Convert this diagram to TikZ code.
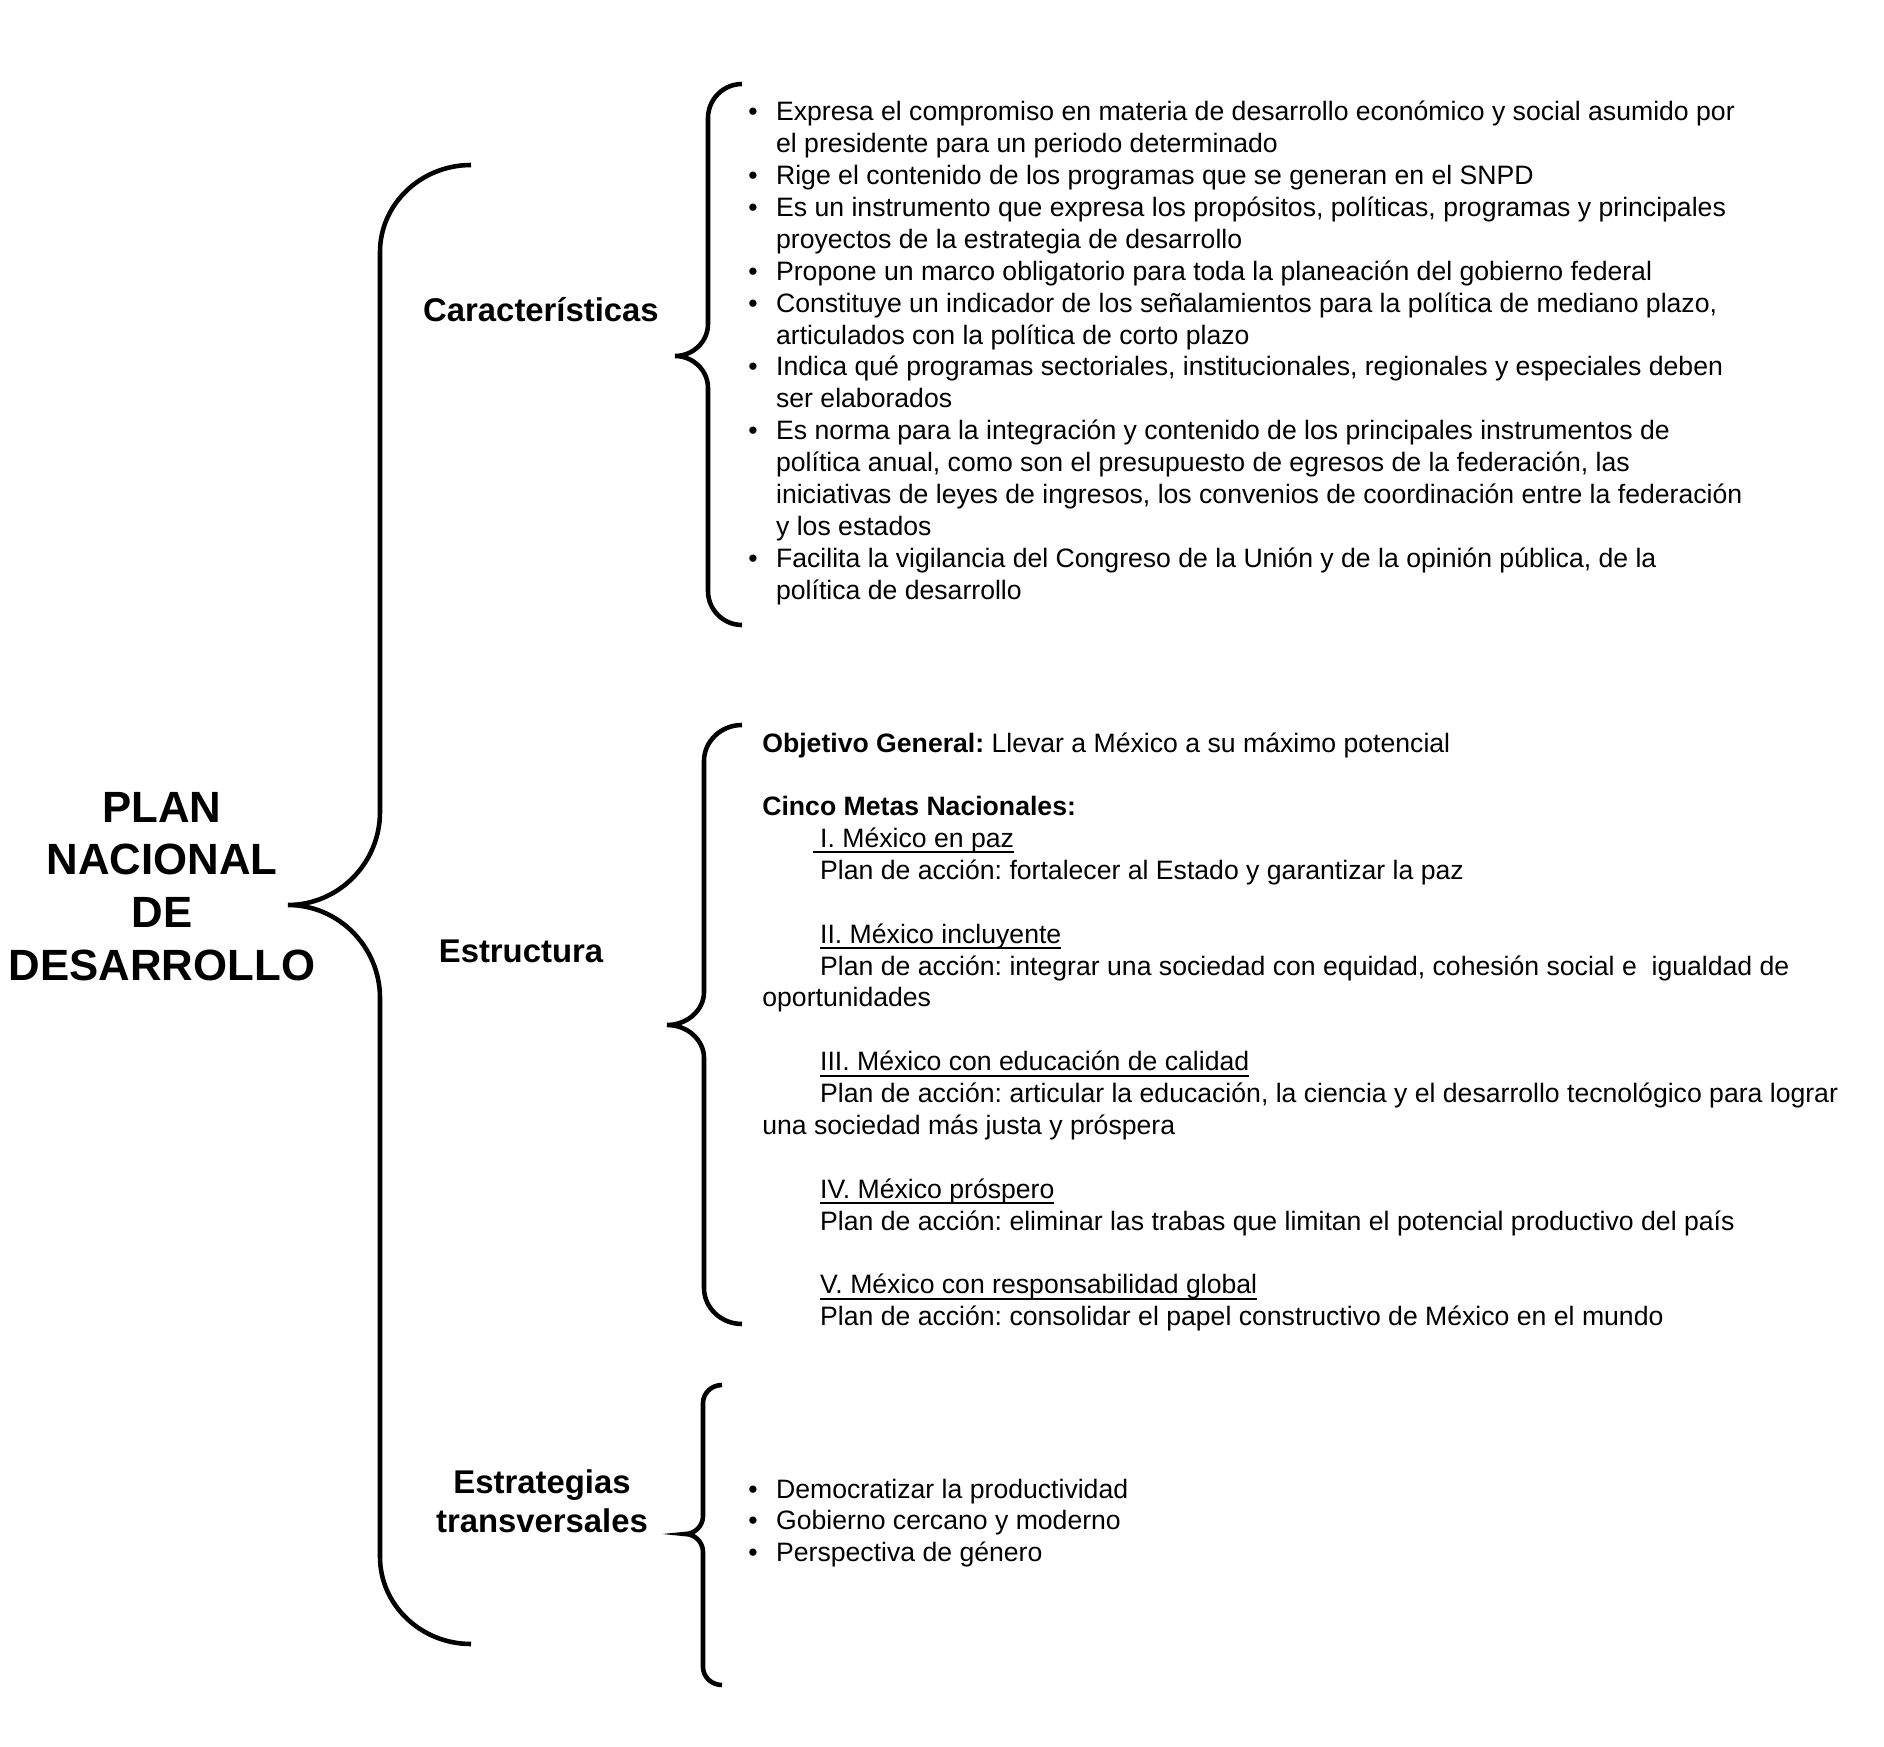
\documentclass[tikz,border=0pt]{standalone}
\usepackage{fontspec}
\setmainfont{Liberation Sans}
\frenchspacing
\newcommand{\sangria}{\hspace*{32.9pt}}
\newcommand{\metaline}[1]{\setbox0\hbox{#1}\rlap{\rule[-3.3pt]{\wd0}{1.1pt}}\box0}
% #1 x end, #2 x line, #3 x tip, #4 y top, #5 y tip, #6 y bottom, #7 end height, #8 tip height
\newcommand{\llave}[8]{%
  \draw[brace] (#1,#4) .. controls ({#2+0.45*(#1-#2)},#4) and (#2,{#4+0.45*#7}) .. (#2,{#4+#7})
    -- (#2,{#5-#8}) .. controls (#2,{#5-0.45*#8}) and ({#3+0.55*(#2-#3)},#5) .. (#3,#5)
    .. controls ({#3+0.55*(#2-#3)},#5) and (#2,{#5+0.45*#8}) .. (#2,{#5+#8})
    -- (#2,{#6-#7}) .. controls (#2,{#6-0.45*#7}) and ({#2+0.45*(#1-#2)},#6) .. (#1,#6);}
\tikzset{
  brace/.style={draw=black, line width=2.6pt},
  titulo/.style={font=\bfseries\fontsize{24.9}{30}\selectfont, inner sep=0pt, anchor=base},
  rama/.style={font=\bfseries\fontsize{18.7}{22.7}\selectfont, inner sep=0pt, anchor=base},
  texto/.style={font=\fontsize{15.15}{18.14}\selectfont, inner sep=0pt, anchor=base west},
}
\begin{document}
\begin{tikzpicture}[x=0.02cm, y=-0.02cm]
  \useasboundingbox (0,0) rectangle (1884,1747);
  \node[titulo] (pnd) at (162,822) {\begin{tabular}[t]{@{}c@{}}PLAN\\NACIONAL\\DE\\DESARROLLO\end{tabular}};
  % main brace and the three branches
  \llave{471}{380}{288}{165}{905}{1644}{87}{93}
  \node[rama] (caract) at (541,322) {Características};
  \node[rama] (estruct) at (521,962) {Estructura};
  \node[rama] (estrat) at (542,1493) {\begin{tabular}[t]{@{}c@{}}Estrategias\\transversales\end{tabular}};
  \llave{742}{708}{675}{84}{356}{625}{34}{32}
  \llave{742}{704}{667}{725}{1025}{1324}{36}{33}
  \llave{722}{703}{685}{1385}{1534}{1685}{18}{18}
  % Caracteristicas
  \node[texto] (listacar) at (748,121) {\begin{tabular}[t]{@{}l@{\hspace{10.5pt}}l@{}}
    \textbullet & Expresa el compromiso en materia de desarrollo económico y social asumido por\\
     & el presidente para un periodo determinado\\
    \textbullet & Rige el contenido de los programas que se generan en el SNPD\\
    \textbullet & Es un instrumento que expresa los propósitos, políticas, programas y principales\\
     & proyectos de la estrategia de desarrollo\\
    \textbullet & Propone un marco obligatorio para toda la planeación del gobierno federal\\
    \textbullet & Constituye un indicador de los señalamientos para la política de mediano plazo,\\
     & articulados con la política de corto plazo\\
    \textbullet & Indica qué programas sectoriales, institucionales, regionales y especiales deben\\
     & ser elaborados\\
    \textbullet & Es norma para la integración y contenido de los principales instrumentos de\\
     & política anual, como son el presupuesto de egresos de la federación, las\\
     & iniciativas de leyes de ingresos, los convenios de coordinación entre la federación\\
     & y los estados\\
    \textbullet & Facilita la vigilancia del Congreso de la Unión y de la opinión pública, de la\\
     & política de desarrollo
  \end{tabular}};
  % Estructura
  \node[texto] (listaest) at (762,752) {\begin{tabular}[t]{@{}l@{}}
    \textbf{Objetivo General:} Llevar a México a su máximo potencial\\
    \\
    \textbf{Cinco Metas Nacionales:}\\
    \hspace*{28.7pt}\metaline{\ I. México en paz}\\
    \sangria Plan de acción: fortalecer al Estado y garantizar la paz\\
    \\
    \sangria\metaline{II. México incluyente}\\
    \sangria Plan de acción: integrar una sociedad con equidad, cohesión social e\ \ igualdad de\\
    oportunidades\\
    \\
    \sangria\metaline{III. México con educación de calidad}\\
    \sangria Plan de acción: articular la educación, la ciencia y el desarrollo tecnológico para lograr\\
    una sociedad más justa y próspera\\
    \\
    \sangria\metaline{IV. México próspero}\\
    \sangria Plan de acción: eliminar las trabas que limitan el potencial productivo del país\\
    \\
    \sangria\metaline{V. México con responsabilidad global}\\
    \sangria Plan de acción: consolidar el papel constructivo de México en el mundo
  \end{tabular}};
  % Estrategias transversales
  \node[texto] (listaestrat) at (748,1498) {\begin{tabular}[t]{@{}l@{\hspace{10.5pt}}l@{}}
    \textbullet & Democratizar la productividad\\
    \textbullet & Gobierno cercano y moderno\\
    \textbullet & Perspectiva de género
  \end{tabular}};
\end{tikzpicture}
\end{document}
